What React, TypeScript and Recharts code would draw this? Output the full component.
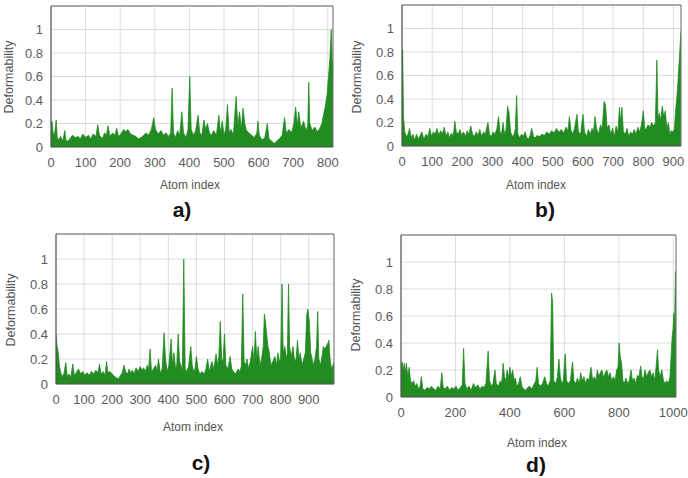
import React from "react";
import { AreaChart, Area, XAxis, YAxis, CartesianGrid, ReferenceLine } from "recharts";

// ---------- Panel a ----------
const atomsA = [
  0, 3, 6, 10, 15, 18, 22, 28, 34, 40,
  43, 48, 55, 62, 70, 78, 85, 92, 100, 108,
  115, 122, 130, 135, 140, 148, 155, 160, 165, 170,
  178, 185, 190, 195, 202, 210, 216, 222, 230, 238,
  245, 252, 260, 268, 275, 282, 290, 297, 302, 310,
  318, 325, 332, 340, 346, 350, 354, 360, 366, 372,
  378, 383, 390, 396, 401, 405, 412, 418, 425, 430,
  436, 442, 447, 452, 458, 464, 470, 478, 485, 490,
  495, 500, 505, 510, 515, 520, 527, 535, 540, 545,
  550, 555, 560, 565, 572, 580, 588, 595, 598, 602,
  610, 618, 625, 630, 638, 645, 652, 660, 668, 675,
  680, 688, 695, 702, 707, 712, 716, 722, 730, 737,
  742, 745, 748, 755, 762, 770, 777, 783, 788, 793,
  798, 802, 806, 810, 813, 815,
];
const deformA = [
  0.2, 0.22, 0.12, 0.1, 0.23, 0.08, 0.06, 0.09, 0.05, 0.14,
  0.06, 0.05, 0.07, 0.1, 0.08, 0.09, 0.07, 0.11, 0.08, 0.1,
  0.07, 0.11, 0.09, 0.19, 0.1, 0.07, 0.12, 0.1, 0.18, 0.09,
  0.12, 0.1, 0.16, 0.09, 0.11, 0.15, 0.13, 0.15, 0.11, 0.1,
  0.09, 0.07, 0.08, 0.1, 0.12, 0.1, 0.15, 0.25, 0.15, 0.11,
  0.14, 0.1, 0.12, 0.09, 0.12, 0.5, 0.12, 0.08, 0.14, 0.1,
  0.3, 0.12, 0.08, 0.15, 0.6, 0.15, 0.1, 0.14, 0.27, 0.12,
  0.1, 0.23, 0.15, 0.2, 0.12, 0.1, 0.14, 0.1, 0.27, 0.12,
  0.22, 0.1, 0.15, 0.36, 0.12, 0.15, 0.1, 0.43, 0.18, 0.3,
  0.15, 0.33, 0.2, 0.14, 0.12, 0.1, 0.08, 0.12, 0.22, 0.1,
  0.06, 0.08, 0.2, 0.07, 0.05, 0.03, 0.05, 0.07, 0.1, 0.25,
  0.12, 0.15, 0.12, 0.2, 0.34, 0.18, 0.3, 0.16, 0.22, 0.14,
  0.18, 0.55, 0.2, 0.14, 0.17, 0.13, 0.16, 0.2, 0.28, 0.35,
  0.45, 0.6, 0.75, 1.0, 0.72, 0.7,
];

// ---------- Panel b ----------
const atomsB = [
  0, 2, 5, 9, 14, 20, 25, 30, 36, 42,
  48, 54, 60, 66, 72, 80, 86, 92, 98, 104,
  110, 116, 122, 128, 134, 140, 146, 152, 158, 164,
  170, 175, 180, 186, 192, 198, 204, 210, 216, 222,
  228, 234, 240, 246, 252, 258, 264, 270, 276, 285,
  290, 296, 302, 308, 314, 320, 325, 330, 335, 340,
  345, 350, 355, 360, 366, 372, 376, 380, 384, 390,
  396, 402, 408, 414, 420, 426, 430, 436, 442, 448,
  456, 464, 472, 480, 488, 496, 504, 512, 520, 528,
  536, 544, 550, 555, 560, 566, 572, 580, 585, 592,
  600, 605, 612, 618, 624, 630, 635, 640, 645, 652,
  658, 664, 670, 675, 680, 686, 692, 698, 704, 710,
  716, 721, 725, 729, 734, 740, 746, 752, 758, 764,
  770, 776, 782, 788, 794, 800, 805, 810, 816, 822,
  828, 834, 840, 845, 849, 853, 858, 863, 868, 873,
  878, 883, 888, 893, 898, 903, 907, 911, 915, 918,
  921, 925,
];
const deformB = [
  0.1, 0.82, 0.25, 0.12, 0.08, 0.1, 0.15, 0.07, 0.1, 0.05,
  0.1, 0.06, 0.09, 0.12, 0.06, 0.1, 0.08, 0.15, 0.08, 0.12,
  0.1, 0.15, 0.09, 0.13, 0.1, 0.16, 0.08, 0.12, 0.07, 0.11,
  0.08, 0.21, 0.12, 0.1, 0.14, 0.09, 0.12, 0.08, 0.13, 0.1,
  0.17, 0.1, 0.08, 0.12, 0.09, 0.14, 0.08, 0.12, 0.1, 0.2,
  0.1, 0.08, 0.12, 0.1, 0.14, 0.25, 0.12, 0.1, 0.2, 0.1,
  0.14, 0.34, 0.28, 0.12, 0.08, 0.1, 0.15, 0.43, 0.1, 0.07,
  0.1, 0.08, 0.12, 0.07, 0.06, 0.1, 0.15, 0.08, 0.07, 0.09,
  0.08, 0.1, 0.09, 0.12, 0.1, 0.13, 0.11, 0.15, 0.12, 0.14,
  0.11, 0.16, 0.13, 0.25, 0.14, 0.1, 0.15, 0.27, 0.12, 0.1,
  0.27, 0.12, 0.08, 0.14, 0.1, 0.15, 0.12, 0.25, 0.15, 0.1,
  0.18, 0.15, 0.38, 0.35, 0.15, 0.18, 0.1, 0.15, 0.08, 0.17,
  0.12, 0.33, 0.2, 0.33, 0.12, 0.1, 0.15, 0.08, 0.12, 0.1,
  0.14, 0.1, 0.16, 0.12, 0.18, 0.3, 0.14, 0.15, 0.18, 0.16,
  0.2, 0.17, 0.2, 0.73, 0.22, 0.28, 0.22, 0.34, 0.25, 0.3,
  0.15, 0.2, 0.1, 0.13, 0.12, 0.14, 0.3, 0.4, 0.55, 0.68,
  0.8, 0.98,
];

// ---------- Panel c ----------
const atomsC = [
  0, 4, 8, 12, 16, 22, 28, 35, 40, 46,
  52, 60, 65, 72, 80, 88, 95, 102, 110, 118,
  126, 134, 142, 150, 155, 160, 168, 175, 180, 185,
  192, 200, 208, 215, 222, 230, 236, 242, 248, 255,
  260, 266, 272, 278, 285, 292, 300, 306, 312, 318,
  325, 330, 335, 340, 347, 355, 360, 365, 372, 378,
  385, 390, 396, 402, 410, 415, 420, 426, 430, 435,
  440, 445, 450, 455, 460, 466, 472, 480, 485, 490,
  495, 500, 506, 512, 520, 528, 534, 540, 546, 555,
  562, 570, 576, 580, 585, 590, 595, 600, 605, 612,
  620, 626, 632, 640, 648, 655, 660, 665, 670, 676,
  680, 686, 692, 700, 705, 710, 715, 720, 726, 732,
  738, 742, 746, 750, 755, 760, 765, 772, 780, 786,
  790, 796, 800, 805, 809, 815, 820, 824, 828, 832,
  838, 844, 850, 855, 860, 865, 870, 876, 882, 888,
  893, 897, 902, 907, 912, 917, 922, 928, 932, 936,
  942, 947, 952, 957, 962, 967, 972, 976, 981, 986,
  990,
];
const deformC = [
  0.4, 0.3, 0.25, 0.15, 0.1, 0.06, 0.08, 0.17, 0.06, 0.08,
  0.05, 0.16, 0.07, 0.09, 0.12, 0.08, 0.1, 0.07, 0.09, 0.07,
  0.1, 0.08, 0.11, 0.09, 0.16, 0.08, 0.1, 0.07, 0.18, 0.09,
  0.1, 0.08, 0.06, 0.05, 0.04, 0.07, 0.09, 0.15, 0.1, 0.08,
  0.12, 0.09, 0.11, 0.08, 0.13, 0.1, 0.14, 0.11, 0.13, 0.1,
  0.15, 0.12, 0.28, 0.1, 0.12, 0.15, 0.1, 0.2, 0.08, 0.12,
  0.41, 0.2, 0.1, 0.15, 0.36, 0.15, 0.25, 0.12, 0.15, 0.4,
  0.18, 0.15, 0.1, 1.0, 0.12, 0.1, 0.14, 0.3, 0.15, 0.1,
  0.12, 0.22, 0.12, 0.08, 0.1, 0.08, 0.12, 0.2, 0.1, 0.18,
  0.12, 0.24, 0.15, 0.22, 0.5, 0.2, 0.18, 0.4, 0.15, 0.12,
  0.22, 0.12, 0.1, 0.08, 0.12, 0.1, 0.14, 0.72, 0.18, 0.15,
  0.2, 0.12, 0.18, 0.3, 0.18, 0.42, 0.2, 0.3, 0.15, 0.2,
  0.3, 0.56, 0.5, 0.4, 0.3, 0.25, 0.15, 0.18, 0.22, 0.15,
  0.25, 0.18, 0.2, 0.8, 0.25, 0.3, 0.2, 0.25, 0.8, 0.3,
  0.22, 0.3, 0.18, 0.2, 0.35, 0.2, 0.25, 0.15, 0.2, 0.25,
  0.55, 0.6, 0.5, 0.25, 0.2, 0.15, 0.2, 0.3, 0.58, 0.2,
  0.15, 0.22, 0.3, 0.28, 0.3, 0.32, 0.35, 0.2, 0.12, 0.15,
  0.18,
];

// ---------- Panel d ----------
const atomsD = [
  0, 4, 8, 12, 16, 20, 25, 30, 35, 40,
  46, 52, 58, 64, 70, 75, 80, 88, 96, 104,
  112, 120, 128, 136, 144, 150, 155, 162, 170, 178,
  186, 194, 202, 210, 218, 225, 230, 235, 242, 250,
  258, 266, 274, 282, 290, 298, 305, 312, 320, 325,
  332, 338, 345, 350, 358, 365, 370, 375, 380, 385,
  390, 395, 400, 405, 410, 415, 420, 426, 432, 438,
  444, 450, 458, 465, 472, 480, 488, 495, 500, 505,
  512, 520, 528, 534, 540, 548, 553, 557, 561, 568,
  574, 580, 585, 590, 596, 603, 608, 615, 622, 630,
  635, 642, 648, 655, 660, 666, 672, 678, 684, 690,
  698, 704, 710, 716, 721, 726, 732, 738, 744, 750,
  756, 762, 768, 774, 780, 786, 792, 797, 801, 805,
  810, 815, 820, 826, 832, 838, 845, 850, 856, 862,
  868, 874, 880, 885, 890, 896, 902, 908, 914, 920,
  926, 932, 938, 942, 946, 952, 958, 964, 970, 976,
  982, 988, 992, 996, 999, 1002, 1005, 1008, 1010,
];
const deformD = [
  0.22, 0.26, 0.2, 0.25, 0.18, 0.25, 0.15, 0.22, 0.12, 0.1,
  0.12, 0.08, 0.1, 0.06, 0.08, 0.15, 0.06, 0.05, 0.07, 0.06,
  0.08, 0.06, 0.05, 0.08, 0.06, 0.18, 0.07, 0.06, 0.08, 0.05,
  0.07, 0.06, 0.08, 0.05, 0.07, 0.09, 0.36, 0.1, 0.06, 0.08,
  0.05, 0.1, 0.07, 0.09, 0.06, 0.08, 0.07, 0.1, 0.34, 0.12,
  0.08, 0.1, 0.2, 0.1, 0.08, 0.12, 0.1, 0.25, 0.15, 0.12,
  0.2, 0.14, 0.22, 0.15, 0.2, 0.12, 0.14, 0.08, 0.1, 0.15,
  0.08, 0.06, 0.05, 0.07, 0.08, 0.06, 0.09, 0.12, 0.22, 0.1,
  0.08, 0.1, 0.15, 0.1, 0.08, 0.12, 0.77, 0.7, 0.12, 0.1,
  0.14, 0.28, 0.15, 0.1, 0.12, 0.32, 0.12, 0.1, 0.12, 0.26,
  0.12, 0.1, 0.14, 0.1, 0.18, 0.12, 0.15, 0.1, 0.14, 0.12,
  0.22, 0.12, 0.15, 0.12, 0.2, 0.15, 0.18, 0.2, 0.14, 0.18,
  0.2, 0.15, 0.18, 0.12, 0.15, 0.12, 0.2, 0.22, 0.4, 0.3,
  0.25, 0.12, 0.1, 0.14, 0.1, 0.12, 0.2, 0.12, 0.14, 0.1,
  0.16, 0.15, 0.23, 0.15, 0.13, 0.2, 0.15, 0.18, 0.2, 0.15,
  0.18, 0.12, 0.25, 0.35, 0.2, 0.15, 0.2, 0.12, 0.1, 0.12,
  0.1, 0.15, 0.3, 0.45, 0.5, 0.62, 0.55, 0.93, 0.9,
];

const ticksA = [0, 100, 200, 300, 400, 500, 600, 700, 800];
const ticksB = [0, 100, 200, 300, 400, 500, 600, 700, 800, 900];
const ticksC = [0, 100, 200, 300, 400, 500, 600, 700, 800, 900];
const ticksD = [0, 200, 400, 600, 800, 1000];
const yTicks = [0, 0.2, 0.4, 0.6, 0.8, 1];

const GREEN = "#228b22";
const TICK_FONT = { fontFamily: "Liberation Sans, Arial, sans-serif", fontSize: 13, fill: "#5a5a5a" };

type PanelProps = {
  atoms: number[];
  values: number[];
  xMax: number;
  xTicks: number[];
  left: number;
  top: number;
  width: number;
  height: number;
  marginTop: number;
  marginRight: number;
};

function Panel(p: PanelProps) {
  const data = p.atoms.map((x, i) => ({ x, y: p.values[i] }));
  return (
    <div style={{ position: "absolute", left: p.left, top: p.top }}>
      <AreaChart
        width={p.width}
        height={p.height}
        data={data}
        margin={{ top: p.marginTop, right: p.marginRight, left: 0, bottom: 0 }}
      >
        <CartesianGrid stroke="#dcdcdc" strokeWidth={1} />
        <XAxis
          type="number"
          dataKey="x"
          domain={[0, p.xMax]}
          ticks={p.xTicks}
          height={28}
          tickLine={false}
          tickSize={6}
          tickMargin={5}
          axisLine={{ stroke: "#555", strokeWidth: 1.2 }}
          tick={TICK_FONT}
          interval={0}
          allowDataOverflow
        />
        <YAxis
          type="number"
          domain={[0, 1.2]}
          ticks={yTicks}
          width={51}
          tickLine={false}
          tickSize={4}
          tickMargin={4}
          axisLine={{ stroke: "#555", strokeWidth: 1.2 }}
          tick={TICK_FONT}
          interval={0}
          allowDataOverflow
        />
        <Area
          type="linear"
          dataKey="y"
          stroke={GREEN}
          strokeWidth={0.8}
          fill={GREEN}
          fillOpacity={1}
          dot={false}
          activeDot={false}
          isAnimationActive={false}
        />
        <ReferenceLine y={1.2} stroke="#666" strokeWidth={1} />
        <ReferenceLine x={p.xMax} stroke="#777" strokeWidth={1} />
      </AreaChart>
    </div>
  );
}

const labelStyle: React.CSSProperties = {
  position: "absolute",
  fontFamily: "Liberation Sans, Arial, sans-serif",
  fontSize: 12,
  color: "#555",
  whiteSpace: "nowrap",
  transform: "translate(-50%, -50%)",
};

const yLabelStyle: React.CSSProperties = {
  ...labelStyle,
  fontSize: 12.5,
  transform: "translate(-50%, -50%) rotate(-90deg)",
};

const panelLetter: React.CSSProperties = {
  position: "absolute",
  fontFamily: "Liberation Sans, Arial, sans-serif",
  fontSize: 21,
  fontWeight: "bold",
  color: "#111",
  transform: "translate(-50%, -50%)",
};

export default function App() {
  return (
    <div style={{ position: "absolute", left: 0, top: 0, width: 688, height: 478, background: "#fff", overflow: "hidden" }}>
      <Panel atoms={atomsA} values={deformA} xMax={815} xTicks={ticksA} left={0} top={0} width={340} height={175} marginTop={6} marginRight={7} />
      <Panel atoms={atomsB} values={deformB} xMax={925} xTicks={ticksB} left={351} top={0} width={335} height={174} marginTop={5} marginRight={5} />
      <Panel atoms={atomsC} values={deformC} xMax={990} xTicks={ticksC} left={5} top={228} width={334} height={184} marginTop={6} marginRight={5} />
      <Panel atoms={atomsD} values={deformD} xMax={1010} xTicks={ticksD} left={350} top={229} width={338} height={196} marginTop={6} marginRight={12} />

      <div style={{ ...yLabelStyle, left: 9, top: 77 }}>Deformability</div>
      <div style={{ ...yLabelStyle, left: 357, top: 77 }}>Deformability</div>
      <div style={{ ...yLabelStyle, left: 11, top: 310 }}>Deformability</div>
      <div style={{ ...yLabelStyle, left: 356, top: 315 }}>Deformability</div>

      <div style={{ ...labelStyle, left: 190, top: 185 }}>Atom index</div>
      <div style={{ ...labelStyle, left: 536, top: 185 }}>Atom index</div>
      <div style={{ ...labelStyle, left: 193, top: 427 }}>Atom index</div>
      <div style={{ ...labelStyle, left: 537, top: 443 }}>Atom index</div>

      <div style={{ ...panelLetter, left: 182, top: 210 }}>a)</div>
      <div style={{ ...panelLetter, left: 545, top: 210 }}>b)</div>
      <div style={{ ...panelLetter, left: 201, top: 463 }}>c)</div>
      <div style={{ ...panelLetter, left: 536, top: 465 }}>d)</div>
    </div>
  );
}
